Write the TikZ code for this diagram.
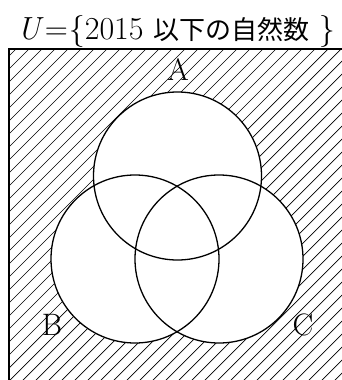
\documentclass[tikz,border=0pt]{standalone}
\usepackage{fontspec}
\newfontfamily\cjk{Noto Sans CJK JP}
\begin{document}
\begin{tikzpicture}[x=1pt,y=-1pt,
  circ/.style={draw=black,line width=1.3pt},
  hatch/.style={draw=black,line width=0.7pt},
  lbl/.style={inner sep=0pt,anchor=base,font=\fontsize{31}{34}\selectfont}]
\useasboundingbox (0,0) rectangle (342,380);
\coordinate (r1) at (9,49);
\coordinate (r2) at (350,390);
\begin{scope}
\clip (r1) rectangle (r2);
\foreach \c in {0,13,...,780} {
  \draw[hatch] (\c-420,420) -- (\c,0);
}
\end{scope}
\draw[line width=1.6pt] (r1) rectangle (r2);
\coordinate (ca) at (177.5,176);
\coordinate (cb) at (135,259);
\coordinate (cc) at (219,259);
\fill[white] (ca) circle (84);
\fill[white] (cb) circle (84);
\fill[white] (cc) circle (84);
\draw[circ] (ca) circle (84);
\draw[circ] (cb) circle (84);
\draw[circ] (cc) circle (84);
\node[lbl] (la) at (178,80) {A};
\node[lbl] (lb) at (52,335) {B};
\node[lbl] (lc) at (303,335) {C};
\node[inner sep=0pt,anchor=base,font=\fontsize{32}{36}\selectfont] (title) at (176,39) {\textit{U}\kern1pt=\kern1pt\{2015\hspace{0.3em}{\cjk\fontsize{26}{30}\selectfont 以下の自然数}\hspace{0.3em}\}};
\end{tikzpicture}
\end{document}
